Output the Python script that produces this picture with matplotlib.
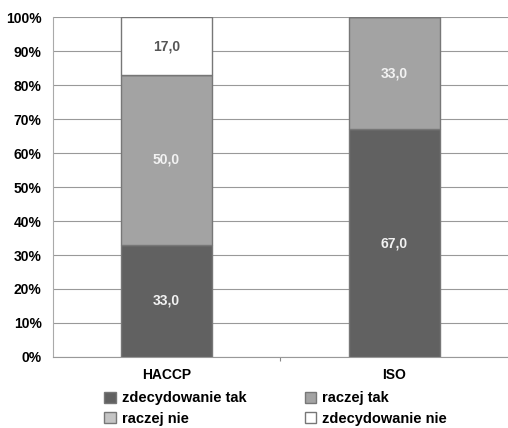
import matplotlib.pyplot as plt
import numpy as np
from matplotlib.patches import Patch

plt.rcParams['font.family'] = ['Liberation Sans', 'DejaVu Sans']

# data
categories = ["HACCP", "ISO"]
series_names = ["zdecydowanie tak", "raczej tak", "raczej nie", "zdecydowanie nie"]
zdecydowanie_tak = [33.0, 67.0]
raczej_tak = [50.0, 33.0]
raczej_nie = [0.0, 0.0]
zdecydowanie_nie = [17.0, 0.0]
y_ticks = [0, 10, 20, 30, 40, 50, 60, 70, 80, 90, 100]

series = [zdecydowanie_tak, raczej_tak, raczej_nie, zdecydowanie_nie]
colors = ['#616161', '#a3a3a3', '#c4c4c4', '#ffffff']
label_colors = ['#f2f2f2', '#f2f2f2', '#f2f2f2', '#555555']

fig = plt.figure(figsize=(5.08, 4.28), dpi=100)
ax = fig.add_axes([0.104, 0.166, 0.896, 0.794])

x = np.arange(len(categories)) + 0.5
bottom = np.zeros(len(categories))
for vals, col, lc in zip(series, colors, label_colors):
    vals = np.array(vals)
    ax.bar(x, vals, width=0.4, bottom=bottom, color=col,
           edgecolor='#777777', linewidth=1.0, zorder=3)
    for xi, b, v in zip(x, bottom, vals):
        if v > 0:
            ax.text(xi, b + v / 2, f"{v:.1f}".replace('.', ','),
                    ha='center', va='center', color=lc,
                    fontsize=10, fontweight='bold', zorder=4)
    bottom += vals

ax.set_xlim(0, 2)
ax.set_ylim(0, 100)
ax.set_yticks(y_ticks)
ax.set_yticklabels([f"{t}%" for t in y_ticks], fontsize=10, fontweight='bold')
ax.set_xticks([1])
ax.set_xticklabels([''])
ax.tick_params(axis='x', length=3, color='#888888')
ax.tick_params(axis='y', length=0, pad=8)
for t, xi in zip(categories, x):
    ax.text(xi, -3.2, t, ha='center', va='top', fontsize=10,
            fontweight='bold', transform=ax.transData)

ax.yaxis.grid(True, color='#999999', linewidth=0.8, zorder=0)
for s in ['top', 'right']:
    ax.spines[s].set_visible(False)
ax.spines['left'].set_color('#aaaaaa')
ax.spines['bottom'].set_color('#999999')

# legend filled row by row like the original
handles = [Patch(facecolor=c, edgecolor='#777777', label=n)
           for c, n in zip(colors, series_names)]
order = [0, 2, 1, 3]
fig.legend(handles=[handles[i] for i in order], loc='lower left',
           bbox_to_anchor=(0.205, 0.005),
           ncol=2, frameon=False, prop={'size': 10.5, 'weight': 'bold'},
           handlelength=0.8, handleheight=0.8, columnspacing=4.0,
           handletextpad=0.4, labelspacing=0.45, borderpad=0.0,
           borderaxespad=0.0)

fig.savefig('out.png', dpi=100)
